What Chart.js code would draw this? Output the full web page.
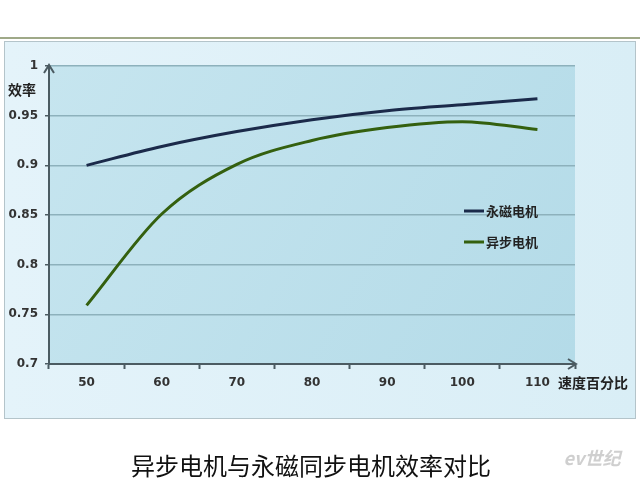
<!DOCTYPE html>
<html>
<head>
<meta charset="utf-8">
<script src="https://cdn.jsdelivr.net/npm/chart.js@4/dist/chart.umd.min.js"></script>
<style>
  html, body { margin: 0; padding: 0; background: #fff; }
  canvas { display: block; }
</style>
</head>
<body>
<canvas id="effChart" width="640" height="480"></canvas>
<script>
// 速度百分比
const speedLabels = ['50', '60', '70', '80', '90', '100', '110'];
// 效率
const pmMotor = [0.900, 0.919, 0.934, 0.946, 0.955, 0.961, 0.967];
const asyncMotor = [0.759, 0.851, 0.901, 0.925, 0.938, 0.944, 0.936];
const yMin = 0.7, yMax = 1, yStep = 0.05;

const axisColor = '#4b5b62';
const cjk = '"Noto Sans CJK SC", "DejaVu Sans", sans-serif';

const decor = {
    id: 'decor',
    beforeDraw(chart) {
        const ctx = chart.ctx;
        const a = chart.chartArea;
        ctx.save();
        // olive rule above the box
        ctx.strokeStyle = '#7f8d60';
        ctx.lineWidth = 1.5;
        ctx.beginPath();
        ctx.moveTo(0, 38);
        ctx.lineTo(640, 38);
        ctx.stroke();
        // outer box
        let g = ctx.createLinearGradient(4, 0, 636, 0);
        g.addColorStop(0, '#e4f3fa');
        g.addColorStop(1, '#d9eef6');
        ctx.fillStyle = g;
        ctx.fillRect(4.5, 41.5, 631, 377);
        ctx.strokeStyle = '#b4c4ca';
        ctx.lineWidth = 1;
        ctx.strokeRect(4.5, 41.5, 631, 377);
        // plot area
        g = ctx.createLinearGradient(a.left, a.top, a.right, a.bottom);
        g.addColorStop(0, '#c6e5ef');
        g.addColorStop(1, '#b4dbe8');
        ctx.fillStyle = g;
        ctx.fillRect(a.left, a.top, a.right - a.left, a.bottom - a.top);
        ctx.restore();
    },
    afterDraw(chart) {
        const ctx = chart.ctx;
        const a = chart.chartArea;
        ctx.save();
        // axis arrows
        ctx.strokeStyle = axisColor;
        ctx.lineWidth = 2;
        ctx.beginPath();
        ctx.moveTo(a.left - 5, a.top + 7);
        ctx.lineTo(a.left, a.top - 1);
        ctx.lineTo(a.left + 5, a.top + 7);
        ctx.moveTo(a.right - 7, a.bottom - 5);
        ctx.lineTo(a.right + 1, a.bottom);
        ctx.lineTo(a.right - 7, a.bottom + 5);
        ctx.stroke();

        // axis titles
        ctx.fillStyle = '#222';
        ctx.textBaseline = 'middle';
        ctx.font = 'bold 14px ' + cjk;
        ctx.textAlign = 'center';
        ctx.fillText('效率', 22, 90);
        ctx.textAlign = 'left';
        ctx.fillText('速度百分比', 558, 383);

        // legend
        ctx.font = 'bold 13px ' + cjk;
        chart.data.datasets.forEach(function (ds, i) {
            const y = 211 + i * 31;
            ctx.strokeStyle = ds.borderColor;
            ctx.lineWidth = 3;
            ctx.beginPath();
            ctx.moveTo(464, y);
            ctx.lineTo(484, y);
            ctx.stroke();
            ctx.fillStyle = '#222';
            ctx.fillText(ds.label, 486, y);
        });

        // caption under the box
        ctx.textAlign = 'center';
        ctx.fillStyle = '#111';
        ctx.font = '24px ' + cjk;
        ctx.fillText('异步电机与永磁同步电机效率对比', 311, 466);

        // watermark
        ctx.fillStyle = '#cfcfcf';
        ctx.font = 'italic bold 18px ' + cjk;
        ctx.fillText('ev世纪', 592, 458);
        ctx.restore();
    },
};

new Chart(document.getElementById('effChart'), {
    type: 'line',
    data: {
        labels: speedLabels,
        datasets: [
            {
                label: '永磁电机',
                data: pmMotor,
                borderColor: '#1b2a4a',
                borderWidth: 3,
                pointRadius: 0,
                cubicInterpolationMode: 'monotone',
                fill: false,
            },
            {
                label: '异步电机',
                data: asyncMotor,
                borderColor: '#34600f',
                borderWidth: 3,
                pointRadius: 0,
                cubicInterpolationMode: 'monotone',
                fill: false,
            },
        ],
    },
    options: {
        responsive: false,
        animation: false,
        devicePixelRatio: 1,
        layout: {
            padding: { left: 0, top: 66, right: 65, bottom: 0 },
        },
        plugins: {
            legend: { display: false },
            tooltip: { enabled: false },
        },
        scales: {
            x: {
                offset: true,
                grid: {
                    offset: true,
                    drawOnChartArea: false,
                    tickLength: 5,
                    tickColor: axisColor,
                    tickWidth: 2,
                },
                border: { color: axisColor, width: 2 },
                ticks: {
                    color: '#333',
                    font: { family: '"DejaVu Sans"', size: 12, weight: 'bold' },
                    padding: 7,
                    maxRotation: 0,
                },
                afterFit: function (scale) { scale.height = 116; },
            },
            y: {
                min: yMin,
                max: yMax,
                ticks: {
                    stepSize: yStep,
                    color: '#333',
                    font: { family: '"DejaVu Sans"', size: 12, weight: 'bold' },
                    padding: 7,
                    callback: function (v) { return String(+v.toFixed(2)); },
                },
                grid: {
                    color: '#8db1bc',
                    lineWidth: 1.5,
                    tickLength: 4,
                    tickColor: axisColor,
                },
                border: { color: axisColor, width: 2 },
                afterFit: function (scale) { scale.width = 49; },
            },
        },
    },
    plugins: [decor],
});
</script>
</body>
</html>
